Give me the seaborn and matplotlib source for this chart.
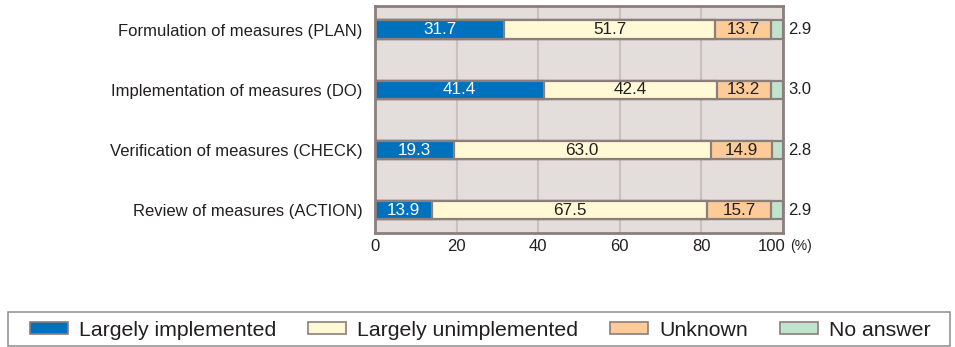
import numpy as np
import pandas as pd
import matplotlib
matplotlib.use("Agg")
import matplotlib.pyplot as plt
from matplotlib.patches import Patch, Rectangle
import seaborn as sns

# Survey results (%) for each PDCA stage
items = [
    "Formulation of measures (PLAN)",
    "Implementation of measures (DO)",
    "Verification of measures (CHECK)",
    "Review of measures (ACTION)",
]
largely_implemented = [31.7, 41.4, 19.3, 13.9]
largely_unimplemented = [51.7, 42.4, 63.0, 67.5]
unknown = [13.7, 13.2, 14.9, 15.7]
no_answer = [2.9, 3.0, 2.8, 2.9]

series_names = ["Largely implemented", "Largely unimplemented", "Unknown", "No answer"]
series_vals = [largely_implemented, largely_unimplemented, unknown, no_answer]
colors = ["#0071bc", "#fff9d6", "#fdcb98", "#bfe3cd"]
label_colors = ["white", "#231f20", "#231f20", "#231f20"]
x_ticks = [0, 20, 40, 60, 80, 100]

edge = "#8b7e7b"
bg = "#e3dddb"
grid_c = "#c9c1bf"

sns.set_style("white")
plt.rcParams["font.family"] = ["Liberation Sans", "DejaVu Sans"]

W, H = 955, 347
fig = plt.figure(figsize=(W / 100, H / 100), dpi=100)
ax = fig.add_axes([375 / W, 1 - 233 / H, (783 - 375) / W, (233 - 6) / H])
ax.set_facecolor(bg)

df = pd.DataFrame({"item": items})
vals = np.array(series_vals)
cum = np.cumsum(vals, axis=0)
for k in range(len(series_names)):
    df[f"cum{k}"] = cum[k]

# Draw cumulative totals from the largest down so each segment shows through
for k in reversed(range(len(series_names))):
    sns.barplot(data=df, x=f"cum{k}", y="item", orient="h", color=colors[k],
                saturation=1, edgecolor=edge, linewidth=1.6, width=0.3,
                ax=ax, zorder=3)

# Segment value labels
for i in range(len(items)):
    left = 0.0
    for k in range(len(series_names)):
        v = vals[k][i]
        if k < len(series_names) - 1:
            ax.text(left + v / 2, i, f"{v:.1f}", ha="center", va="center",
                    fontsize=12.3, color=label_colors[k], zorder=5)
        else:
            ax.annotate(f"{v:.1f}", xy=(100, i), xytext=(4, 0),
                        textcoords="offset points", ha="left", va="center",
                        fontsize=12, color="#231f20", annotation_clip=False)
        left += v

ax.set_xlim(0, 100)
ax.set_ylim(3.375, -0.39)
ax.set_xticks(x_ticks)
ax.set_xticklabels([str(t) for t in x_ticks[:-1]] + [""])
ax.annotate(str(x_ticks[-1]), xy=(100, 0), xycoords=("data", "axes fraction"),
            xytext=(2, -4), textcoords="offset points", ha="right", va="top",
            fontsize=12, color="#231f20", annotation_clip=False)
ax.annotate("(%)", xy=(100, 0), xycoords=("data", "axes fraction"),
            xytext=(5, -4), textcoords="offset points", ha="left", va="top",
            fontsize=10, color="#231f20", annotation_clip=False)
ax.tick_params(axis="both", length=0, labelsize=12, colors="#231f20")
ax.tick_params(axis="y", pad=9)
ax.tick_params(axis="x", pad=4)
ax.set_xlabel("")
ax.set_ylabel("")

for x in x_ticks[1:-1]:
    ax.axvline(x, color=grid_c, lw=1.5, zorder=1)
for s in ax.spines.values():
    s.set_visible(True)
    s.set_color(edge)
    s.set_linewidth(2)
    s.set_zorder(6)

# Legend strip along the bottom, with its own frame
fig.patches.append(Rectangle((8 / W, 1 - 346 / H), (950 - 8) / W, (346 - 312) / H,
                             transform=fig.transFigure, facecolor="white",
                             edgecolor="#8c8c8c", linewidth=1.1, zorder=0))
handles = [Patch(facecolor=c, edgecolor=edge, linewidth=1.2) for c in colors]
fs = 15.3
fig.legend(handles, series_names, ncol=4, loc="center left",
           bbox_to_anchor=(30 / W, 1 - 330 / H), fontsize=fs, frameon=False,
           handlelength=1.79, handleheight=0.56, handletextpad=0.52,
           columnspacing=1.5, borderpad=0, borderaxespad=0,
           labelcolor="#231f20")

fig.savefig("out.png", dpi=100)
